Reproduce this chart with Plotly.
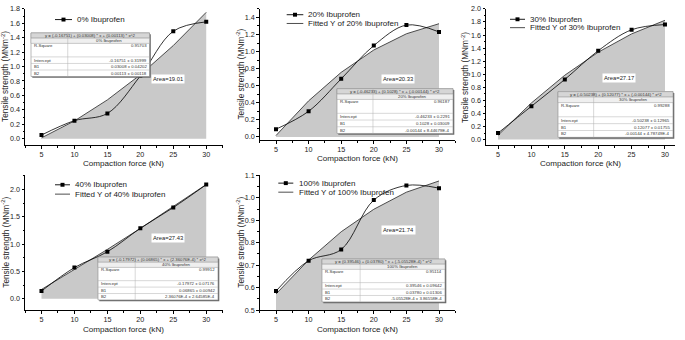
import plotly.graph_objects as go

W, H = 685, 340
FONT = "Liberation Sans, Arial, sans-serif"

# ---------------- data ----------------
force = [5, 10, 15, 20, 25, 30]
tick_x = [5, 10, 15, 20, 25, 30]

names = ["0% Ibuprofen", "20% Ibuprofen", "30% Ibuprofen", "40% Ibuprofen", "100% Ibuprofen"]
ts_0 = [0.05, 0.25, 0.35, 0.87, 1.49, 1.62]
fit_0 = [0.011, 0.246, 0.538, 0.886, 1.291, 1.752]
ts_20 = [0.09, 0.30, 0.68, 1.07, 1.31, 1.23]
fit_20 = [0.016, 0.422, 0.756, 1.018, 1.208, 1.326]
ts_30 = [0.10, 0.51, 0.92, 1.36, 1.68, 1.76]
fit_30 = [0.066, 0.561, 0.985, 1.337, 1.617, 1.825]
ts_40 = [0.14, 0.57, 0.86, 1.29, 1.67, 2.09]
fit_40 = [0.169, 0.530, 0.903, 1.288, 1.684, 2.092]
ts_100 = [0.585, 0.72, 0.77, 0.99, 1.055, 1.043]
fit_100 = [0.572, 0.723, 0.849, 0.949, 1.025, 1.075]

areas = ["19.01", "20.33", "27.17", "27.43", "21.74"]
equations = [
    "y = (-0.16751) + (0.03008) * x + (0.00113) * x^2",
    "y = (-0.46233) + (0.1028) * x + (-0.00144) * x^2",
    "y = (-0.50238) + (0.12077) * x + (-0.00144) * x^2",
    "y = (-0.17972) + (0.06865) * x + (2.36076E-4) * x^2",
    "y = (0.39546) + (0.03780) * x + (-5.05528E-4) * x^2",
]
r_square = ["0.95703", "0.96187", "0.99288", "0.99912", "0.95114"]
intercepts = ["-0.16751 ± 0.31999", "-0.46233 ± 0.2291", "-0.50238 ± 0.12965",
              "-0.17972 ± 0.07176", "0.39546 ± 0.09642"]
b1_vals = ["0.03008 ± 0.04202", "0.1028 ± 0.03009", "0.12077 ± 0.01755",
           "0.06865 ± 0.00942", "0.03780 ± 0.01306"]
b2_vals = ["0.00113 ± 0.00118", "-0.00144 ± 8.44679E-4", "-0.00144 ± 4.78749E-4",
           "2.36076E-4 ± 2.64585E-4", "-5.05528E-4 ± 3.86558E-4"]

series = [ts_0, ts_20, ts_30, ts_40, ts_100]
fits = [fit_0, fit_20, fit_30, fit_40, fit_100]

# ---------------- layout geometry (pixels) ----------------
panels = [
    dict(x0=25, x1=222.7, yt=5, yb=145, xr=[2.5, 32.5], yr=[-0.09, 1.8], dt=0.2, mdt=0.1),
    dict(x0=259.7, x1=455.3, yt=5, yb=140, xr=[2.5, 32.5], yr=[-0.04, 1.5], dt=0.2, mdt=0.1),
    dict(x0=486, x1=675, yt=5, yb=145, xr=[3.2, 31.5], yr=[-0.085, 2.0], dt=0.2, mdt=0.1),
    dict(x0=25, x1=222.7, yt=176, yb=314.5, xr=[2.5, 32.5], yr=[-0.21, 2.26], dt=0.5, mdt=0.25),
    dict(x0=259.7, x1=455.3, yt=176, yb=314.5, xr=[2.5, 32.5], yr=[0.5, 1.1], dt=0.1, mdt=0.05),
]
ytitle_x = [5, 240, 465, 5, 240]
xtitle_y = [163.5, 158.5, 163.5, 334.5, 334.5]
tables = [
    (31, 29.7, 149.5, 74.5),
    (337, 87, 453, 133),
    (558, 90, 673, 137),
    (98, 260, 218, 304),
    (322, 262, 445, 306),
]
area_pos = [(167.7, 77), (398, 77.3), (618.7, 76), (168, 240), (398.7, 232)]
legend_pos = [  # line start, line end, text x, row1 y, row2 y
    (55, 72, 75, 16, None),
    (286.7, 303.3, 306, 11, 20),
    (510, 525, 528.3, 15.7, 24.3),
    (55, 70, 73.3, 185.7, 195.3),
    (278.3, 293.3, 296.7, 184, 193.3),
]


def px(x):
    return x / W


def py(y):
    return 1 - y / H


fig = go.Figure()
shapes = []
annotations = []

for i, p in enumerate(panels):
    xa = "x" if i == 0 else f"x{i+1}"
    ya = "y" if i == 0 else f"y{i+1}"
    fig.add_trace(go.Scatter(
        x=force, y=fits[i], mode="lines", xaxis=xa, yaxis=ya,
        line=dict(color="#3a3a3a", width=0.9), fill="tozeroy",
        fillcolor="#c9c9c9", showlegend=False, hoverinfo="skip"))
    fig.add_trace(go.Scatter(
        x=force, y=series[i], mode="lines+markers", xaxis=xa, yaxis=ya,
        line=dict(color="black", width=0.8, shape="spline", smoothing=1.0),
        marker=dict(symbol="square", size=4, color="black"),
        showlegend=False))

    axis_common = dict(
        showline=True, linecolor="black", linewidth=0.9, ticks="outside",
        ticklen=2.5, tickwidth=0.8, tickcolor="black", showgrid=False, zeroline=False,
        tickfont=dict(family=FONT, size=7.2, color="#222"),
    )
    xkey = "xaxis" if i == 0 else f"xaxis{i+1}"
    ykey = "yaxis" if i == 0 else f"yaxis{i+1}"
    fig.layout[xkey] = dict(
        domain=[px(p["x0"]), px(p["x1"])], range=p["xr"], anchor=ya,
        tickvals=tick_x,
        minor=dict(ticks="outside", ticklen=1.5, tickcolor="black", dtick=2.5, tick0=2.5),
        **axis_common)
    fig.layout[ykey] = dict(
        domain=[py(p["yb"]), py(p["yt"])], range=p["yr"], anchor=xa,
        dtick=p["dt"], tick0=0, tickformat=".1f",
        minor=dict(ticks="outside", ticklen=1.5, tickcolor="black", dtick=p["mdt"], tick0=0),
        **axis_common)

    # axis titles
    annotations.append(dict(
        x=px(ytitle_x[i]), y=py((p["yt"] + p["yb"]) / 2), xref="paper", yref="paper",
        text="Tensile strength (MNm<sup>-2</sup>)", textangle=-90, showarrow=False,
        font=dict(family=FONT, size=8.3, color="#222"), xanchor="center", yanchor="middle"))
    annotations.append(dict(
        x=px((p["x0"] + p["x1"]) / 2), y=py(xtitle_y[i]), xref="paper", yref="paper",
        text="Compaction force (kN)", showarrow=False,
        font=dict(family=FONT, size=8.1, color="#222"), xanchor="center", yanchor="middle"))

    # area label
    ax_, ay_ = area_pos[i]
    annotations.append(dict(
        x=px(ax_), y=py(ay_), xref="paper", yref="paper", text=f"Area={areas[i]}",
        showarrow=False, bgcolor="white", borderpad=1,
        font=dict(family=FONT, size=5.8, color="#222"), xanchor="center", yanchor="middle"))

    # legend
    l0, l1, tx, r1, r2 = legend_pos[i]
    shapes.append(dict(type="line", xref="paper", yref="paper", x0=px(l0), x1=px(l1),
                       y0=py(r1), y1=py(r1), line=dict(color="black", width=0.9)))
    mx = (l0 + l1) / 2
    shapes.append(dict(type="rect", xref="paper", yref="paper", x0=px(mx - 2), x1=px(mx + 2),
                       y0=py(r1 - 2), y1=py(r1 + 2), fillcolor="black", line=dict(width=0)))
    annotations.append(dict(
        x=px(tx), y=py(r1), xref="paper", yref="paper", text=names[i], showarrow=False,
        font=dict(family=FONT, size=8, color="#222"), xanchor="left", yanchor="middle"))
    if r2 is not None:
        shapes.append(dict(type="line", xref="paper", yref="paper", x0=px(l0), x1=px(l1),
                           y0=py(r2), y1=py(r2), line=dict(color="#3a3a3a", width=0.9)))
        annotations.append(dict(
            x=px(tx), y=py(r2), xref="paper", yref="paper", text=f"Fitted Y of {names[i]}",
            showarrow=False, font=dict(family=FONT, size=8, color="#222"),
            xanchor="left", yanchor="middle"))

    # table
    tx0, ty0, tx1, ty1 = tables[i]
    th = ty1 - ty0
    fr = [0.12, 0.12, 0.31, 0.15, 0.15, 0.15]
    edges = [ty0]
    for f in fr:
        edges.append(edges[-1] + f * th)
    cdiv = tx0 + 0.31 * (tx1 - tx0)
    shapes.append(dict(type="rect", xref="paper", yref="paper", x0=px(tx0 + 1.3), x1=px(tx1 + 1.3),
                       y0=py(ty0 + 1.3), y1=py(ty1 + 1.3), fillcolor="#6a6a6a", line=dict(width=0)))
    shapes.append(dict(type="rect", xref="paper", yref="paper", x0=px(tx0), x1=px(tx1),
                       y0=py(ty0), y1=py(ty1), fillcolor="white", line=dict(color="#8a8a8a", width=0.6)))
    shapes.append(dict(type="rect", xref="paper", yref="paper", x0=px(tx0), x1=px(tx1),
                       y0=py(edges[0]), y1=py(edges[1]), fillcolor="#d6d6d6",
                       line=dict(color="#8a8a8a", width=0.5)))
    shapes.append(dict(type="rect", xref="paper", yref="paper", x0=px(tx0), x1=px(tx1),
                       y0=py(edges[1]), y1=py(edges[2]), fillcolor="#efefef",
                       line=dict(color="#9a9a9a", width=0.5)))
    for e in edges[3:6]:
        shapes.append(dict(type="line", xref="paper", yref="paper", x0=px(tx0), x1=px(tx1),
                           y0=py(e), y1=py(e), line=dict(color="#b0b0b0", width=0.5)))
    shapes.append(dict(type="line", xref="paper", yref="paper", x0=px(cdiv), x1=px(cdiv),
                       y0=py(ty0), y1=py(ty1), line=dict(color="#b0b0b0", width=0.5)))
    tf = dict(family=FONT, size=4.3, color="#333")
    annotations.append(dict(x=px((tx0 + tx1) / 2), y=py((edges[0] + edges[1]) / 2), xref="paper",
                            yref="paper", text=equations[i], showarrow=False, font=tf,
                            xanchor="center", yanchor="middle"))
    annotations.append(dict(x=px((cdiv + tx1) / 2), y=py((edges[1] + edges[2]) / 2), xref="paper",
                            yref="paper", text=names[i], showarrow=False, font=tf,
                            xanchor="center", yanchor="middle"))
    rows = [("R-Square", r_square[i], edges[2] + 2.6),
            ("Intercept", intercepts[i], (edges[3] + edges[4]) / 2),
            ("B1", b1_vals[i], (edges[4] + edges[5]) / 2),
            ("B2", b2_vals[i], (edges[5] + edges[6]) / 2)]
    for lab, val, yy in rows:
        annotations.append(dict(x=px(tx0 + 1), y=py(yy), xref="paper", yref="paper", text=lab,
                                showarrow=False, font=tf, xanchor="left", yanchor="middle"))
        annotations.append(dict(x=px(tx1 - 1), y=py(yy), xref="paper", yref="paper", text=val,
                                showarrow=False, font=tf, xanchor="right", yanchor="middle"))

fig.update_layout(
    width=W, height=H, margin=dict(l=0, r=0, t=0, b=0),
    paper_bgcolor="white", plot_bgcolor="white", showlegend=False,
    shapes=shapes, annotations=annotations,
    font=dict(family=FONT, color="#222"),
)

fig.write_html("out.html", config={"displayModeBar": False},
               post_script="document.body.style.margin='0';document.body.style.padding='0';")
